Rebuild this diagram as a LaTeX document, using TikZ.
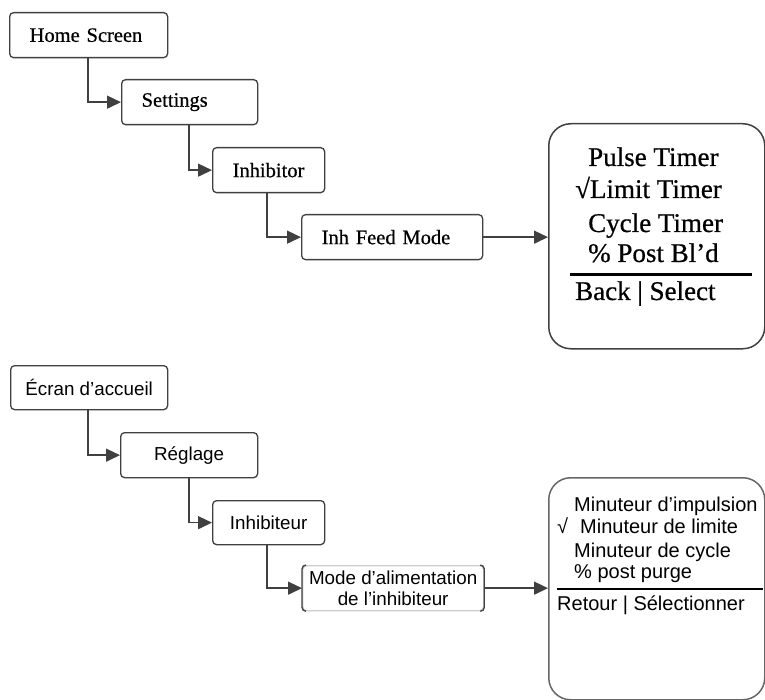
\documentclass[tikz,border=0pt]{standalone}
\usepackage{fontspec}
\setmainfont{Liberation Serif}
\newfontfamily\serifb[FakeBold=0.6]{Liberation Serif}
\newfontfamily\sansf{Liberation Sans}
\usetikzlibrary{arrows.meta}
\tikzset{
  box/.style={draw=black!75, line width=1.3pt, rounded corners=4pt, fill=white, inner ysep=0pt, anchor=north west},
  tbox/.style={box, font=\serifb\fontsize{20.5}{22}\selectfont, inner xsep=20pt, align=left, minimum height=45pt},
  bbox/.style={box, font=\sansf\fontsize{18.8}{21}\selectfont, inner xsep=0pt, align=center, minimum height=44pt},
  menubox/.style={draw=black!75, line width=1.5pt, rounded corners=22pt, inner sep=0pt, anchor=north west},
  conn/.style={draw=black!75, line width=1.4pt, -{Triangle[length=14pt,width=13pt]}},
  mtop/.style={anchor=base west, inner sep=0pt, font=\serifb\fontsize{27}{30}\selectfont},
  mbot/.style={anchor=base west, inner sep=0pt, font=\sansf\fontsize{20}{23}\selectfont},
}
\begin{document}
\begin{tikzpicture}[x=1pt,y=-1pt]
\useasboundingbox[fill=white] (0,0) rectangle (765,700);

% ---------- English ----------
\node[tbox, text width=118pt] (home) at (9,12) {Home Screen};
\node[tbox, text width=96pt] (set) at (121,79) {Settings};
\node[tbox, text width=72pt] (inh) at (212,147) {Inhibitor};
\node[tbox, text width=141pt] (feed) at (301,214) {Inh Feed Mode};
\node[menubox, minimum width=216pt, minimum height=225pt] (menu) at (548,123) {};

\draw[conn] (home.south west) ++(79,0) |- (set.west);
\draw[conn] (set.south west) ++(68,0) |- (inh.west);
\draw[conn] (inh.south west) ++(55,0) |- (feed.west);
\draw[conn] (feed.east) -- (feed.east -| menu.west);

\node[mtop] (t1) at (588,166) {Pulse Timer};
\node[mtop] (t2) at (575,198) {√Limit Timer};
\node[mtop] (t3) at (588,232) {Cycle Timer};
\node[mtop] (t4) at (588,262) {\% Post Bl’d};
\draw[line width=3pt] (570,275) -- (752,275);
\node[mtop] (t5) at (575,300) {Back | Select};

% ---------- French ----------
\node[bbox, minimum width=157pt] (ecran) at (10,365) {Écran d’accueil};
\node[bbox, minimum width=137pt, minimum height=45pt] (regl) at (120,432) {Réglage};
\node[bbox, minimum width=112pt] (inhf) at (212,500) {Inhibiteur};
\node[bbox, minimum width=181pt, minimum height=45pt, draw=black!20] (mode) at (302,565) {Mode d’alimentation\\de l’inhibiteur};
\draw[black!75, line width=1.3pt] ([xshift=4pt]mode.north west) arc[start angle=90, end angle=180, radius=4pt] -- ([yshift=4pt]mode.south west) arc[start angle=180, end angle=270, radius=4pt];
\draw[black!75, line width=1.3pt] ([xshift=-4pt]mode.north east) arc[start angle=90, end angle=0, radius=4pt] -- ([yshift=4pt]mode.south east) arc[start angle=0, end angle=-90, radius=4pt];
\node[menubox, draw=black!60, minimum width=216pt, minimum height=222pt] (menuf) at (548,477) {};

\draw[conn] (ecran.south west) ++(78,0) |- (regl.west);
\draw[conn] (regl.south west) ++(69,0) |- (inhf.west);
\draw[conn] (inhf.south west) ++(55,0) |- (mode.west);
\draw[conn] (mode.east) -- (mode.east -| menuf.west);

\node[mbot] (f1) at (574,511) {Minuteur d’impulsion};
\node[mbot] (fc) at (557,533) {√};
\node[mbot] (f2) at (580,533) {Minuteur de limite};
\node[mbot] (f3) at (574,557) {Minuteur de cycle};
\node[mbot] (f4) at (574,578) {\% post purge};
\draw[line width=2pt] (557,589) -- (763,589);
\node[mbot] (f5) at (557,610) {Retour | Sélectionner};
\end{tikzpicture}
\end{document}
